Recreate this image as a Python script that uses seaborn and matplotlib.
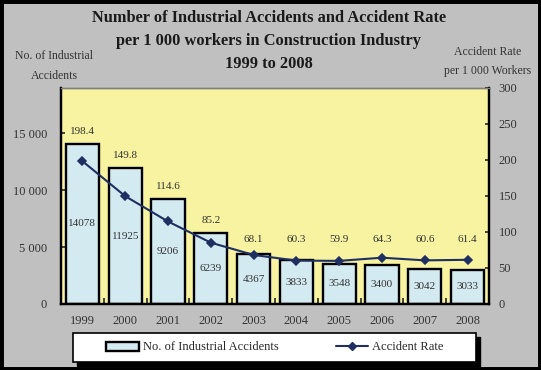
import numpy as np
import pandas as pd
import matplotlib
matplotlib.use("Agg")
import matplotlib.pyplot as plt
import seaborn as sns
from matplotlib.patches import Rectangle, Patch
from matplotlib.lines import Line2D
from matplotlib.ticker import FixedLocator, FuncFormatter

# Datos del gráfico
years = ['1999', '2000', '2001', '2002', '2003', '2004', '2005', '2006', '2007', '2008']
accidents = [14078, 11925, 9206, 6239, 4367, 3833, 3548, 3400, 3042, 3033]
rates = [198.4, 149.8, 114.6, 85.2, 68.1, 60.3, 59.9, 64.3, 60.6, 61.4]
left_ticks = [0, 5000, 10000, 15000]
right_ticks = [0, 50, 100, 150, 200, 250, 300]

BG = '#c0c0c0'
PLOT_BG = '#f7f3a0'
BAR = '#d3eaf0'
NAVY = '#1f2f62'
TXT = '#333333'


def build_df():
    return pd.DataFrame({'year': years, 'accidents': accidents, 'rate': rates})


def draw(df):
    sns.set_style('white')
    plt.rcParams['font.family'] = ['Liberation Serif', 'DejaVu Serif']

    fig = plt.figure(figsize=(5.41, 3.70), dpi=100)
    fig.patch.set_facecolor(BG)
    ax = fig.add_axes([61 / 541, 1 - 304 / 370, 428 / 541, 216 / 370])
    ax.set_facecolor(PLOT_BG)

    # Barras: número de accidentes
    sns.barplot(data=df, x='year', y='accidents', ax=ax, color=BAR, saturation=1,
                edgecolor='black', linewidth=1.7, width=0.78, zorder=2)
    ax.set_ylim(0, 19000)
    ax.set_xlim(-0.5, len(years) - 0.5)
    ax.yaxis.set_major_locator(FixedLocator(left_ticks))
    ax.yaxis.set_major_formatter(FuncFormatter(lambda v, p: f"{int(v):,}".replace(',', ' ')))
    ax.set_xlabel('')
    ax.set_ylabel('')
    ax.tick_params(axis='y', direction='in', length=3, width=1.2, pad=10,
                   labelsize=9, labelcolor=TXT, left=True)
    ax.tick_params(axis='x', length=0, pad=8, labelsize=9, labelcolor=TXT)
    ax.set_xticks(np.arange(len(years)) + 0.5, minor=True)
    ax.tick_params(axis='x', which='minor', direction='in', length=4, width=1.2, bottom=True)

    for i, (n, r) in enumerate(zip(df['accidents'], df['rate'])):
        ax.text(i, n / 2, f"{n}", ha='center', va='center', fontsize=8, color=TXT, zorder=4)
        ax.text(i, max(n + 1100, 5700), f"{r:.1f}", ha='center', va='center',
                fontsize=8, color=TXT, zorder=4)

    # Línea: tasa de accidentes
    ax2 = ax.twinx()
    sns.pointplot(data=df, x='year', y='rate', ax=ax2, color=NAVY, markers='D',
                  markersize=4.5, linewidth=1.5)
    ax2.set_ylim(0, 300)
    ax2.set_xlim(-0.5, len(years) - 0.5)
    ax2.yaxis.set_major_locator(FixedLocator(right_ticks))
    ax2.set_ylabel('')
    ax2.set_xlabel('')
    ax2.tick_params(axis='y', direction='in', length=3, width=1.2, pad=7,
                    labelsize=9, labelcolor=TXT, right=True)

    for a in (ax, ax2):
        for side in ('left', 'right', 'bottom'):
            a.spines[side].set_color('black')
            a.spines[side].set_linewidth(1.6)
        a.spines['top'].set_color('#808080')
        a.spines['top'].set_linewidth(1.0)

    # Títulos
    fig.text(269 / 541, 1 - 41 / 370,
             "Number of Industrial Accidents and Accident Rate\n"
             "per 1 000 workers in Construction Industry\n1999 to 2008",
             ha='center', va='center', fontsize=11.8, fontweight='bold',
             color='#1a1a1a', linespacing=1.6)
    fig.text(54 / 541, 1 - 66 / 370, "No. of Industrial\nAccidents", ha='center',
             va='center', fontsize=8.5, color=TXT, linespacing=1.85)
    fig.text(488 / 541, 1 - 61.5 / 370, "Accident Rate\nper 1 000 Workers", ha='center',
             va='center', fontsize=8.5, color=TXT, linespacing=1.85)

    # Leyenda con sombra
    x0, y0, w, h = 73 / 541, 1 - 362 / 370, 403 / 541, 29 / 370
    fig.patches.append(Rectangle((x0 + 4 / 541, y0 - 4 / 370), w, h, transform=fig.transFigure,
                                 facecolor='black', edgecolor='black', zorder=1))
    fig.patches.append(Rectangle((x0, y0), w, h, transform=fig.transFigure,
                                 facecolor='white', edgecolor='black', lw=1.2, zorder=2))
    handles = [Patch(facecolor=BAR, edgecolor='black', linewidth=1.7),
               Line2D([], [], color=NAVY, marker='D', markersize=4.5, lw=1.5)]
    leg = fig.legend(handles, ['No. of Industrial Accidents', 'Accident Rate'],
                     loc='center', bbox_to_anchor=(275 / 541, 1 - 347.5 / 370), ncol=2,
                     frameon=False, fontsize=9, handlelength=2.6, handletextpad=0.3,
                     columnspacing=4.6)
    leg.set_zorder(3)

    # Borde de la figura
    fig.patches.append(Rectangle((0, 0), 1, 1, transform=fig.transFigure, fill=False,
                                 edgecolor='black', lw=5, zorder=5))

    fig.savefig('out.png', dpi=100, facecolor=fig.get_facecolor())


def main():
    df = build_df()
    draw(df)


if __name__ == "__main__":
    main()
